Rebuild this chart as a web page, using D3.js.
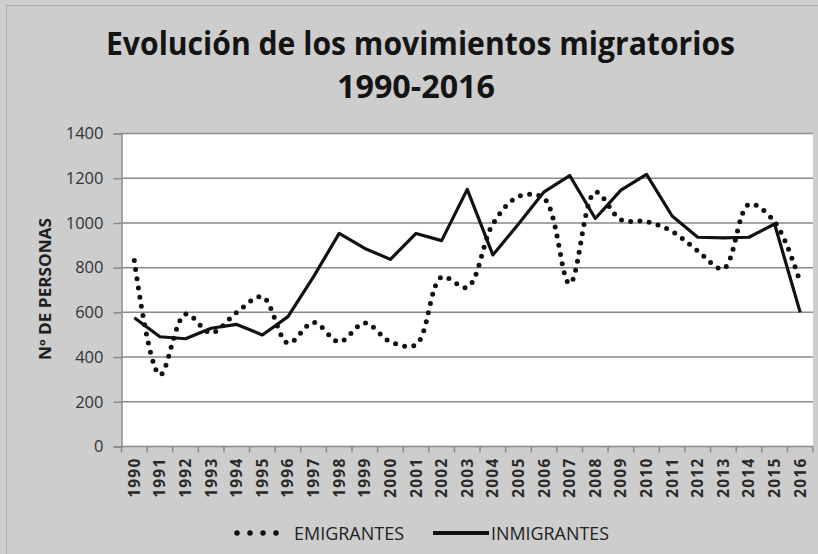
<!DOCTYPE html>
<html>
<head>
<meta charset="utf-8">
<script src="https://cdn.jsdelivr.net/npm/d3@7"></script>
<style>
  body { margin: 0; background: #cdcdcd; }
  text { font-family: "Open Sans", sans-serif; }
</style>
</head>
<body>
<div id="chart"></div>
<script>
// Data
const years = ["1990", "1991", "1992", "1993", "1994", "1995", "1996", "1997", "1998", "1999",
  "2000", "2001", "2002", "2003", "2004", "2005", "2006", "2007", "2008", "2009",
  "2010", "2011", "2012", "2013", "2014", "2015", "2016"];
const emigrantes = [832, 320, 592, 508, 600, 670, 462, 555, 468, 553,
  468, 456, 758, 712, 995, 1118, 1110, 728, 1138, 1014,
  1006, 962, 875, 795, 1083, 1005, 735];
const inmigrantes = [576, 491, 482, 529, 546, 499, 581, 760, 953, 886,
  837, 953, 921, 1150, 857, 995, 1139, 1212, 1020, 1147,
  1217, 1031, 936, 933, 936, 995, 600];
const yTicks = [0, 200, 400, 600, 800, 1000, 1200, 1400];
const seriesNames = ["EMIGRANTES", "INMIGRANTES"];

const width = 818, height = 554;
const plot = { left: 121.5, right: 813, top: 133.5, bottom: 446.5 };

const svg = d3.select("#chart")
  .append("svg")
  .attr("width", width)
  .attr("height", height);

// Background and frame
svg.append("rect")
  .attr("x", 0).attr("y", 0)
  .attr("width", width).attr("height", height)
  .attr("fill", "#cdcdcd");
svg.append("rect")
  .attr("x", 6.5).attr("y", 5.5)
  .attr("width", width).attr("height", height)
  .attr("fill", "none")
  .attr("stroke", "#ababab")
  .attr("stroke-width", 1);

// Plot area
svg.append("rect")
  .attr("x", plot.left).attr("y", plot.top)
  .attr("width", plot.right - plot.left)
  .attr("height", plot.bottom - plot.top)
  .attr("fill", "#ffffff");

// Scales
const x = d3.scaleBand()
  .domain(years)
  .range([plot.left, plot.right]);

const y = d3.scaleLinear()
  .domain([0, 1400])
  .range([plot.bottom, plot.top]);

const cx = d => x(d) + x.bandwidth() / 2;

// Gridlines
svg.append("g")
  .selectAll("line")
  .data(yTicks.filter(t => t > 0))
  .enter()
  .append("line")
  .attr("x1", plot.left).attr("x2", plot.right)
  .attr("y1", d => y(d)).attr("y2", d => y(d))
  .attr("stroke", "#8a8a8a")
  .attr("stroke-width", 1.5);

// Y axis
const yAxis = svg.append("g")
  .attr("transform", "translate(" + plot.left + ",0)")
  .call(d3.axisLeft(y).tickValues(yTicks).tickFormat(d3.format("d")).tickSize(8).tickPadding(10));
yAxis.select(".domain").attr("stroke", "#8a8a8a").attr("stroke-width", 1.5);
yAxis.selectAll(".tick line").attr("stroke", "#8a8a8a").attr("stroke-width", 1.5);
yAxis.selectAll("text")
  .attr("font-family", "Open Sans")
  .style("font-size", "16.5px")
  .attr("fill", "#333");

// X axis, ticks on category boundaries
const xAxis = svg.append("g")
  .attr("transform", "translate(0," + plot.bottom + ")");
xAxis.append("line")
  .attr("x1", plot.left).attr("x2", plot.right)
  .attr("stroke", "#8a8a8a").attr("stroke-width", 1.5);
xAxis.selectAll(".xtick")
  .data(years.concat(["end"]))
  .enter()
  .append("line")
  .attr("x1", (d, i) => i < years.length ? x(d) : plot.right)
  .attr("x2", (d, i) => i < years.length ? x(d) : plot.right)
  .attr("y1", 0).attr("y2", 6)
  .attr("stroke", "#8a8a8a").attr("stroke-width", 1.5);
xAxis.selectAll(".xlabel")
  .data(years)
  .enter()
  .append("text")
  .attr("transform", d => "translate(" + (cx(d) + 5.5) + ",11)rotate(-90)")
  .attr("text-anchor", "end")
  .style("font-size", "15.5px")
  .style("font-weight", "700")
  .style("letter-spacing", "1.2px")
  .attr("fill", "#2a2a2a")
  .text(d => d);

// Lines
const line = d3.line()
  .x((d, i) => cx(years[i]))
  .y(d => y(d));

svg.append("path")
  .datum(emigrantes)
  .attr("d", line.curve(d3.curveCatmullRom))
  .attr("fill", "none")
  .attr("stroke", "#111")
  .attr("stroke-width", 5)
  .attr("stroke-linecap", "round")
  .attr("stroke-dasharray", "0 9.3");

svg.append("path")
  .datum(inmigrantes)
  .attr("d", line.curve(d3.curveLinear))
  .attr("fill", "none")
  .attr("stroke", "#111")
  .attr("stroke-width", 3.2)
  .attr("stroke-linejoin", "round");

// Title
svg.append("text")
  .attr("x", 420.5).attr("y", 55)
  .attr("text-anchor", "middle")
  .attr("textLength", 629)
  .attr("lengthAdjust", "spacingAndGlyphs")
  .style("font-size", "32px")
  .style("font-weight", "700")
  .attr("fill", "#141414")
  .text("Evolución de los movimientos migratorios");
svg.append("text")
  .attr("x", 416).attr("y", 98)
  .attr("text-anchor", "middle")
  .attr("textLength", 158)
  .attr("lengthAdjust", "spacingAndGlyphs")
  .style("font-size", "32px")
  .style("font-weight", "700")
  .attr("fill", "#141414")
  .text("1990-2016");

// Y axis title
svg.append("text")
  .attr("transform", "translate(51,289)rotate(-90)")
  .attr("text-anchor", "middle")
  .attr("textLength", 142)
  .attr("lengthAdjust", "spacingAndGlyphs")
  .style("font-size", "16px")
  .style("font-weight", "700")
  .attr("fill", "#1f1f1f")
  .text("Nº DE PERSONAS");

// Legend
const legend = svg.append("g");
legend.append("line")
  .attr("x1", 237).attr("x2", 289)
  .attr("y1", 533).attr("y2", 533)
  .attr("stroke", "#111")
  .attr("stroke-width", 5.5)
  .attr("stroke-linecap", "round")
  .attr("stroke-dasharray", "0 13");
legend.append("text")
  .attr("x", 294).attr("y", 539.5)
  .attr("textLength", 110)
  .attr("lengthAdjust", "spacingAndGlyphs")
  .style("font-size", "18.5px")
  .attr("fill", "#222")
  .text(seriesNames[0]);
legend.append("line")
  .attr("x1", 433).attr("x2", 489)
  .attr("y1", 533).attr("y2", 533)
  .attr("stroke", "#111")
  .attr("stroke-width", 3.8);
legend.append("text")
  .attr("x", 491).attr("y", 539.5)
  .attr("textLength", 118)
  .attr("lengthAdjust", "spacingAndGlyphs")
  .style("font-size", "18.5px")
  .attr("fill", "#222")
  .text(seriesNames[1]);
</script>
</body>
</html>
